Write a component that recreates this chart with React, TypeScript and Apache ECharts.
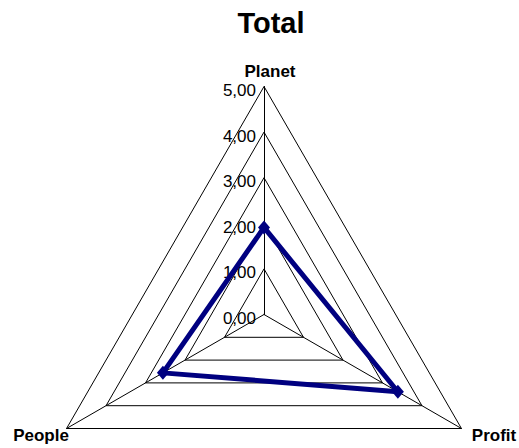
import React, { useEffect, useRef } from "react";
import * as echarts from "echarts";

const titleText = "Total";
const categories = ["Planet", "People", "Profit"];
const values = [1.91, 2.56, 3.39];
const axisMin = 0;
const axisMax = 5;
const splitCount = 5;

export default function App() {
  const ref = useRef<HTMLDivElement>(null);
  useEffect(() => {
    if (!ref.current) return;
    const chart = echarts.init(ref.current, null, { renderer: "svg" });
    const cx = 264;
    const cy = 314.5;
    const fontFamily = "Liberation Sans, Arial, sans-serif";
    const namePos: Record<string, { x: number; y: number; align: string }> = {
      Planet: { x: 270, y: 71, align: "center" },
      People: { x: 41, y: 435.5, align: "center" },
      Profit: { x: 494, y: 435.5, align: "center" },
    };
    chart.setOption({
      animation: false,
      backgroundColor: "#ffffff",
      radar: {
        center: [cx, cy],
        radius: 228,
        startAngle: 90,
        shape: "polygon",
        splitNumber: splitCount,
        axisName: { show: false },
        indicator: categories.map((name, i) => ({
          name,
          min: axisMin,
          max: axisMax,
          ...(i === 0 ? {} : { axisLabel: { show: false } }),
        })),
        axisLine: { lineStyle: { color: "#000000", width: 1 } },
        splitLine: { lineStyle: { color: "#000000", width: 1 } },
        splitArea: { show: false },
        axisTick: { show: false },
        axisLabel: {
          show: true,
          showMinLabel: true,
          showMaxLabel: true,
          color: "#000000",
          fontSize: 17,
          fontFamily,
          margin: 8,
          formatter: (v: number) => "{t|" + v.toFixed(2).replace(".", ",") + "}",
          rich: {
            t: {
              color: "#000000",
              fontSize: 17,
              fontFamily,
              padding: [8, 0, 0, 0],
            },
          },
        },
      },
      series: [
        {
          type: "radar",
          symbol: "diamond",
          symbolSize: [12, 14],
          lineStyle: { color: "#000080", width: 5 },
          itemStyle: { color: "#000080" },
          data: [{ value: values, name: titleText }],
        },
      ],
      graphic: [
        {
          type: "text",
          x: 271,
          y: 22.5,
          style: {
            text: titleText,
            font: `bold 29px ${fontFamily}`,
            fill: "#000000",
            textAlign: "center",
            textVerticalAlign: "middle",
          },
        },
        ...categories.map((name) => ({
          type: "text",
          x: namePos[name].x,
          y: namePos[name].y,
          style: {
            text: name,
            font: `bold 17px ${fontFamily}`,
            fill: "#000000",
            textAlign: namePos[name].align,
            textVerticalAlign: "middle",
          },
        })),
      ],
    });
    return () => chart.dispose();
  }, []);
  return (
    <div
      ref={ref}
      style={{ position: "absolute", left: 0, top: 0, width: 519, height: 448 }}
    />
  );
}
